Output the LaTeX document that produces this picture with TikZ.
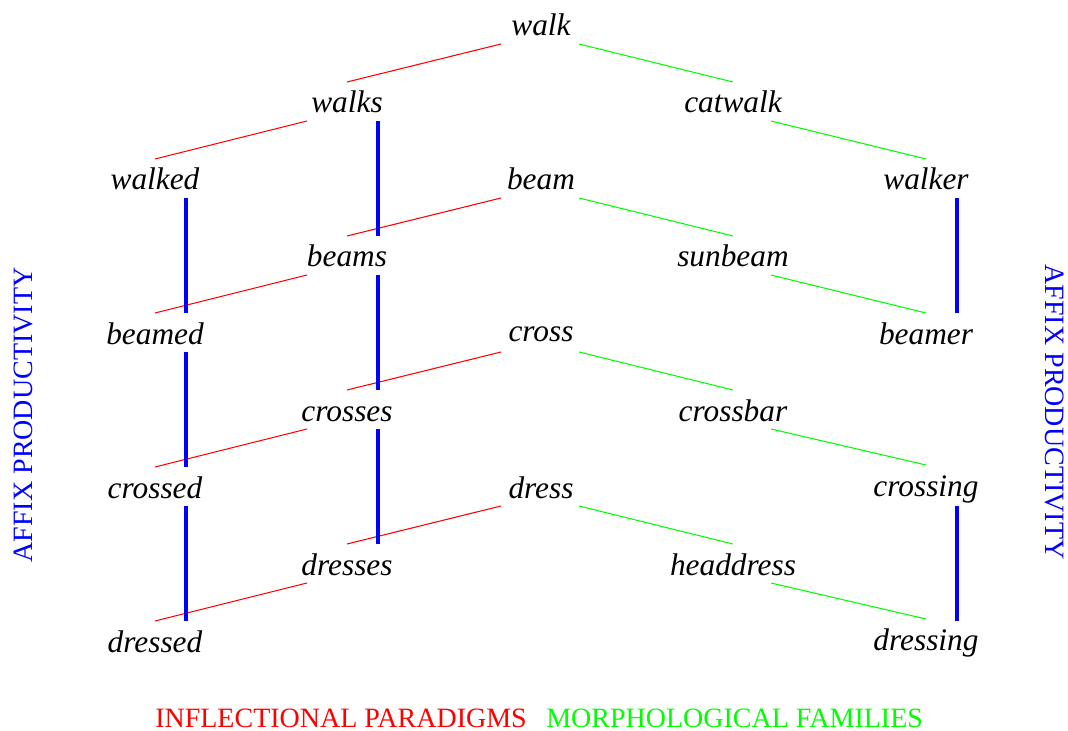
\documentclass[tikz,border=0pt]{standalone}
\usepackage{fontspec}
\setmainfont{Liberation Serif}
\usetikzlibrary{calc}
\definecolor{pred}{RGB}{255,0,0}
\definecolor{pgreen}{RGB}{0,255,0}
\definecolor{pblue}{RGB}{0,0,255}
\tikzset{
  word/.style={anchor=base, inner sep=0pt, font=\fontsize{23.5pt}{28pt}\selectfont\itshape},
  lab/.style={inner sep=0pt, font=\fontsize{21pt}{24pt}\selectfont},
  infl/.style={draw=pred, line width=0.8pt},
  famline/.style={draw=pgreen, line width=0.8pt},
  prod/.style={draw=pblue, line width=2.5pt},
}
\newcommand{\myinfl}[2]{\draw[infl] ($(#1.base)+(-40,8)$) -- ($(#2.base)+(0,-31)$);}
\newcommand{\myfam}[2]{\draw[famline] ($(#1.base)+(38,8)$) -- ($(#2.base)+(0,-31)$);}
\newcommand{\myprod}[2]{\draw[prod] ($(#1.base)+(31,8)$) -- ($(#2.base)+(31,-31)$);}
\begin{document}
\begin{tikzpicture}[x=0.75pt, y=-0.75pt]
\useasboundingbox (0,0) rectangle (1068,731);
% row baselines: 36 + 77k
\node[word] (walk) at (541,36) {walk};
\node[word] (walks) at (347,113) {walks};
\node[word] (catwalk) at (733,113) {catwalk};
\node[word] (walked) at (155,190) {walked};
\node[word] (beam) at (541,190) {beam};
\node[word] (walker) at (926,190) {walker};
\node[word] (beams) at (347,267) {beams};
\node[word] (sunbeam) at (733,267) {sunbeam};
\node[word] (beamed) at (155,344) {beamed};
\node[word] (cross) at (541,341) {cross};
\node[word] (beamer) at (926,344) {beamer};
\node[word] (crosses) at (347,421) {crosses};
\node[word] (crossbar) at (733,421) {crossbar};
\node[word] (crossed) at (155,498) {crossed};
\node[word] (dress) at (541,498) {dress};
\node[word] (crossing) at (926,496) {crossing};
\node[word] (dresses) at (347,575) {dresses};
\node[word] (headdress) at (733,575) {headdress};
\node[word] (dressed) at (155,652) {dressed};
\node[word] (dressing) at (926,650) {dressing};
% inflectional paradigms
\myinfl{walk}{walks}
\myinfl{walks}{walked}
\myinfl{beam}{beams}
\myinfl{beams}{beamed}
\draw[infl] ($(cross.base)+(-40,11)$) -- ($(crosses.base)+(0,-31)$);
\myinfl{crosses}{crossed}
\myinfl{dress}{dresses}
\myinfl{dresses}{dressed}
% morphological families
\myfam{walk}{catwalk}
\myfam{catwalk}{walker}
\myfam{beam}{sunbeam}
\myfam{sunbeam}{beamer}
\draw[famline] ($(cross.base)+(38,11)$) -- ($(crossbar.base)+(0,-31)$);
\myfam{crossbar}{crossing}
\myfam{dress}{headdress}
\myfam{headdress}{dressing}
% affix productivity
\myprod{walks}{beams}
\myprod{beams}{crosses}
\myprod{crosses}{dresses}
\myprod{walked}{beamed}
\myprod{beamed}{crossed}
\myprod{crossed}{dressed}
\myprod{walker}{beamer}
\draw[prod] ($(crossing.base)+(31,10)$) -- ($(dressing.base)+(31,-29)$);
% labels
\node[lab, text=pblue, rotate=90, anchor=base] (affl) at (32,415) {AFFIX PRODUCTIVITY};
\node[lab, text=pblue, rotate=-90, anchor=base] (affr) at (1045,412) {AFFIX PRODUCTIVITY};
\node[lab, text=pred, anchor=base west] (inflab) at (155,727) {INFLECTIONAL PARADIGMS};
\node[lab, text=pgreen, anchor=base west] (famlab) at (546,727) {MORPHOLOGICAL FAMILIES};
\end{tikzpicture}
\end{document}
